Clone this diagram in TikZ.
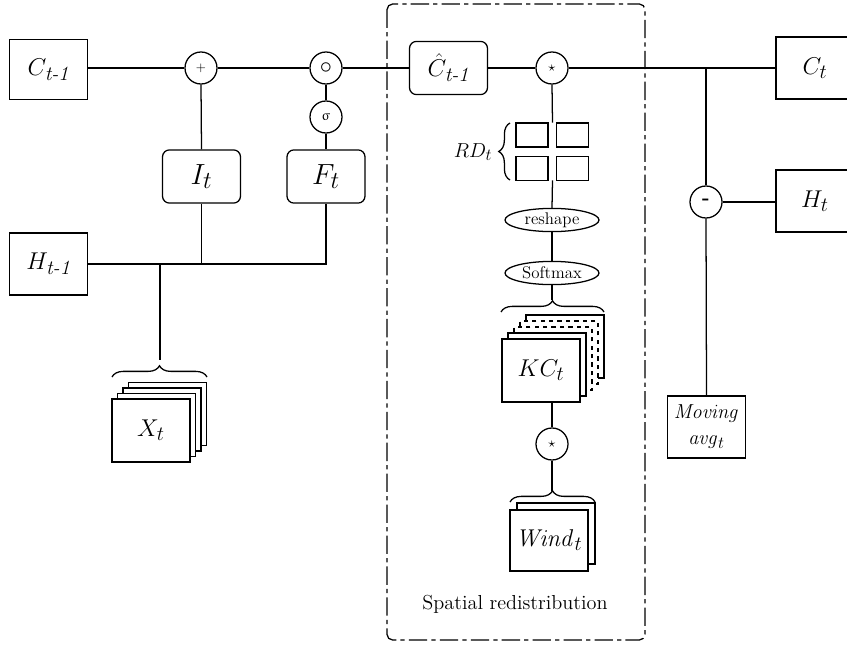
\documentclass[tikz,border=0pt]{standalone}
\usepackage{amsmath}
\usepackage{amssymb}
\usepackage{upgreek}
\usepackage{tikz}
\usetikzlibrary{shapes.geometric, decorations.pathreplacing, calc}
\DeclareMathSizes{12}{12}{10}{8}
\DeclareMathSizes{14.4}{14.4}{12}{9}
\DeclareMathSizes{17.28}{17.28}{14.4}{10}
\DeclareMathSizes{20.74}{20.74}{17}{12}
\tikzset{
  wire/.style={line width=0.9pt},
  cellbox/.style={
    rectangle, draw, line width=0.9pt,
    minimum width=1.95cm, minimum height=1.5cm, font=\LARGE},
  gatebox/.style={
    rectangle, draw, line width=0.9pt, rounded corners=5pt,
    minimum width=1.95cm, minimum height=1.33cm, font=\huge},
  opcirc/.style={
    circle, draw, line width=0.9pt, minimum size=0.8cm, inner sep=0pt},
  opellip/.style={
    ellipse, draw, line width=0.9pt, minimum width=2.35cm,
    minimum height=0.58cm, inner sep=0pt, font=\large},
  stackbox/.style={
    rectangle, draw, fill=white, line width=0.9pt,
    minimum width=1.95cm, minimum height=1.57cm},
  gridbox/.style={
    rectangle, draw, line width=0.9pt,
    minimum width=0.8cm, minimum height=0.6cm},
  brc/.style={
    decorate, line width=0.9pt,
    decoration={brace, amplitude=8pt}},
  region/.style={
    draw, line width=0.9pt, rounded corners=4pt,
    dash pattern=on 13pt off 3pt on 3pt off 3pt},
}

\begin{document}
\begin{tikzpicture}[x=0.025cm, y=-0.025cm]
  \useasboundingbox (0,0) rectangle (847,644);

  % spatial redistribution frame
  \draw[region] (387,4) rectangle (645,640);
  \node[font=\Large] (srlabel) at (515,604) {Spatial redistribution};

  % left part: gates
  \node[cellbox] (cprev) at (48.5,69.5) {$C_{\textit{t-1}}$};
  \node[cellbox, minimum height=1.55cm] (hprev) at (48.5,264) {$H_{\textit{t-1}}$};
  \node[opcirc, font=\small] (plus) at (201,68) {$+$};
  \node[opcirc, font=\LARGE] (hada) at (326,68) {$\circ$};
  \node[opcirc] (sig) at (326,117) {$\upsigma$};
  \node[gatebox] (it) at (201.5,176.5) {$I_t$};
  \node[gatebox] (ft) at (326,176.5) {$F_t$};

  % input stack
  \foreach \k in {3,2,1}
    \node[stackbox] at ({151+5.5*\k},{430.5-5.5*\k}) {};
  \node[stackbox, font=\LARGE] (xt) at (151,430.5) {$X_t$};
  \coordinate (xtip) at (160,360);
  \coordinate (xjoin) at (160,264);
  \draw[brc] (112,377) -- (207,377);

  % spatial redistribution
  \node[gatebox, font=\LARGE] (chat) at (448.5,68) {$\hat{C}_{\textit{t-1}}$};
  \node[opcirc] (star1) at (552,68) {$\star$};
  \node[gridbox] (rd1) at (532,135) {};
  \node[gridbox] (rd2) at (572.5,135) {};
  \node[gridbox] (rd3) at (532,168.5) {};
  \node[gridbox] (rd4) at (572.5,168.5) {};
  \node[minimum width=1.83cm, minimum height=1.43cm, inner sep=0pt]
    (rd) at (552.5,151.5) {};
  \draw[brc] (510,180) -- (510,123);
  \node[font=\Large] (rdlabel) at (473,152) {$RD_t$};
  \node[opellip] (resh) at (552,220) {reshape};
  \node[opellip] (smax) at (552,273) {Softmax};

  \foreach \k/\ls in {4/solid,3/dashed,2/dashed,1/solid}
    \node[stackbox, \ls] at ({541+6*\k},{370.5-6*\k}) {};
  \node[stackbox, font=\LARGE] (kc) at (541,370.5) {$KC_t$};
  \coordinate (kctip) at (552,300);
  \draw[brc] (501,312) -- (604,312);

  \node[opcirc] (star2) at (552,444) {$\star$};
  \node[stackbox, minimum height=1.53cm] at (556,533.5) {};
  \node[stackbox, minimum height=1.53cm, font=\LARGE] (wind) at (549,540.5)
    {$\mathit{Wind}_t$};
  \coordinate (wtip) at (552,491);
  \draw[brc] (510,502) -- (595,502);

  % right part: outputs
  \node[cellbox, minimum height=1.55cm] (ct) at (815,68) {$C_t$};
  \node[cellbox, minimum height=1.55cm] (ht) at (815,201) {$H_t$};
  \node[opcirc, font=\Large] (minus) at (706,202) {\textbf{-}};
  \node[rectangle, draw, line width=0.9pt, minimum width=1.95cm,
        minimum height=1.55cm, align=center, font=\Large] (mavg) at (706.5,427)
    {$\mathit{Moving}$\\$\mathit{avg}_t$};
  \coordinate (rjoin) at (706,68);

  % connectors
  \draw[wire] (cprev.east |- plus) -- (plus.west);
  \draw[wire] (plus.east) -- (hada.west);
  \draw[wire] (hada.east) -- (chat.west);
  \draw[wire] (chat.east) -- (star1.west);
  \draw[wire] (star1.east) -- (ct.west |- star1);
  \draw[wire] (hada.south) -- (sig.north);
  \draw[wire] (sig.south) -- (ft.north);
  \draw[wire] (it.north) -- (plus.south);
  \draw[wire] (hprev.east) -- (hprev.east -| ft.south) -- (ft.south);
  \draw[wire] (it.south) -- (it.south |- hprev.east);
  \draw[wire] (xjoin) -- (xtip);
  \draw[wire] (star1.south) -- (rd.north);
  \draw[wire] (rd.south) -- (resh.north);
  \draw[wire] (resh.south) -- (smax.north);
  \draw[wire] (smax.south) -- (kctip);
  \draw[wire] (star2.north |- kc.south) -- (star2.north);
  \draw[wire] (star2.south) -- (wtip);
  \draw[wire] (rjoin) -- (minus.north);
  \draw[wire] (minus.east) -- (minus.east -| ht.west);
  \draw[wire] (minus.south) -- (mavg.north);
\end{tikzpicture}
\end{document}
